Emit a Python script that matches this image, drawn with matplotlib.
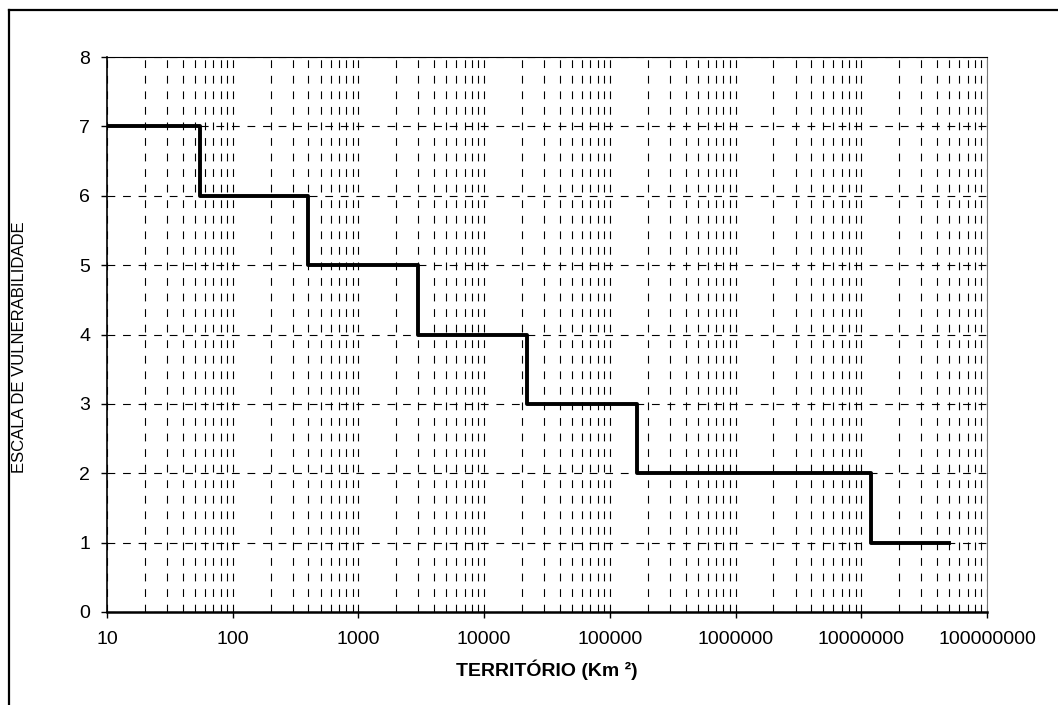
import matplotlib.pyplot as plt
from matplotlib.lines import Line2D
from matplotlib.ticker import LogLocator, FixedFormatter, FixedLocator, NullFormatter

plt.rcParams['font.family'] = ['Liberation Sans', 'DejaVu Sans']

# step limits (km2) and vulnerability level
territorio = [10, 55, 400, 3000, 22000, 165000, 12000000, 50000000]
escala = [7, 6, 5, 4, 3, 2, 1, 1]
xticks = [10, 100, 1000, 10000, 100000, 1000000, 10000000, 100000000]
xlabels = ['10', '100', '1000', '10000', '100000', '1000000', '10000000', '100000000']

fig = plt.figure(figsize=(10.58, 7.05), dpi=100)
ax = fig.add_axes([107/1058, 1 - 612/705, 880/1058, 555/705])

ax.plot(territorio, escala, drawstyle='steps-post', color='black', lw=2.8, zorder=3)

ax.set_xscale('log')
ax.set_xlim(10, 1e8)
ax.set_ylim(0, 8)
ax.xaxis.set_major_locator(FixedLocator(xticks))
ax.xaxis.set_major_formatter(FixedFormatter(xlabels))
ax.xaxis.set_minor_locator(LogLocator(base=10, subs=range(2, 10), numticks=20))
ax.xaxis.set_minor_formatter(NullFormatter())
ax.set_yticks(range(0, 9))

dash = (0, (7, 7))
ax.grid(True, which='major', axis='both', color='black', lw=0.8, linestyle=dash)
ax.grid(True, which='minor', axis='x', color='black', lw=0.8, linestyle=dash)

ax.tick_params(axis='both', which='major', labelsize=14, length=4, direction='out', width=1)
ax.tick_params(axis='x', which='minor', length=0)
ax.tick_params(axis='x', pad=10)
ax.tick_params(axis='y', pad=8)

ax.spines['bottom'].set_linewidth(1.8)
ax.spines['left'].set_linewidth(1.2)
ax.spines['top'].set_linewidth(0.8)
ax.spines['right'].set_linewidth(0.8)
ax.spines['right'].set_color('#777777')

ax.set_xlabel('TERRITÓRIO (Km ²)', fontsize=14, fontweight='bold', labelpad=8)
ax.set_ylabel('ESCALA DE VULNERABILIDADE', fontsize=12)
ax.yaxis.set_label_coords(-80/880, 0.477)

# outer frame of the figure
fx = 9/1058
fy = 1 - 10/705
fig.add_artist(Line2D([fx, fx], [0, fy], color='black', lw=1.6))
fig.add_artist(Line2D([fx, 1], [fy, fy], color='black', lw=1.6))

fig.savefig('out.png', dpi=100)
